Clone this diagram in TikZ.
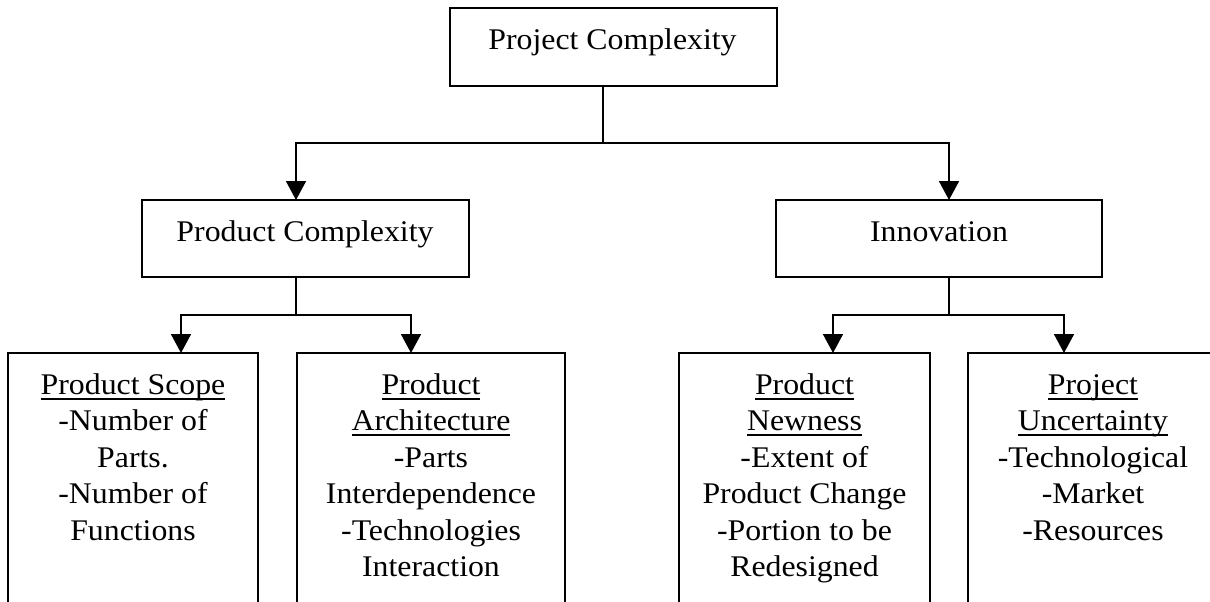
\documentclass[tikz,border=0pt]{standalone}
\usepackage{fontspec}
\setmainfont{Liberation Serif}[FakeStretch=1.06]
\usetikzlibrary{arrows.meta}
\newsavebox{\ulbox}
\newcommand{\ulx}[1]{\sbox{\ulbox}{#1}\rlap{\rule[-5.3pt]{\wd\ulbox}{2pt}}\usebox{\ulbox}}
\newcommand{\toprule}{\rule{0pt}{25pt}}
\begin{document}
\begin{tikzpicture}[x=1pt,y=-1pt,
  box/.style={draw, line width=1.8pt, inner sep=0pt, outer sep=0pt},
  lbl/.style={font=\fontsize{30}{36.5}\selectfont, align=center, inner sep=0pt, anchor=base},
  mlbl/.style={font=\fontsize{30}{36.5}\selectfont, align=center, inner sep=0pt, anchor=north},
  conn/.style={line width=1.8pt},
  arr/.style={conn, -{Triangle[width=20pt,length=19pt]}}]
\path[use as bounding box] (0,0) rectangle (1210,602);
\clip (0,0) rectangle (1210,602);
% top level
\node[box, minimum width=327pt, minimum height=78pt] (top) at (613.5,47) {};
\node[lbl] (toptext) at (612.5,50) {Project Complexity};
% second level
\node[box, minimum width=327pt, minimum height=77pt] (pc) at (305.5,238.5) {};
\node[lbl] (pctext) at (305,241) {Product Complexity};
\node[box, minimum width=326pt, minimum height=77pt] (inn) at (939,238.5) {};
\node[lbl] (inntext) at (939,241) {Innovation};
% third level (open at the bottom edge)
\node[box, minimum width=250pt, minimum height=287pt] (b1) at (133,496.5) {};
\node[mlbl] (b1t) at (133,369) {\toprule\ulx{Product Scope}\\-Number of\\Parts.\\-Number of\\Functions};
\node[box, minimum width=268pt, minimum height=287pt] (b2) at (431,496.5) {};
\node[mlbl] (b2t) at (431,369) {\toprule\ulx{Product}\\\ulx{Architecture}\\-Parts\\Interdependence\\-Technologies\\Interaction};
\node[box, minimum width=251pt, minimum height=287pt] (b3) at (804.5,496.5) {};
\node[mlbl] (b3t) at (804.5,369) {\toprule\ulx{Product}\\\ulx{Newness}\\-Extent of\\Product Change\\-Portion to be\\Redesigned};
\node[box, minimum width=250pt, minimum height=287pt] (b4) at (1093,496.5) {};
\node[mlbl] (b4t) at (1093,369) {\toprule\ulx{Project}\\\ulx{Uncertainty}\\-Technological\\-Market\\-Resources};
% connectors
\coordinate (j0) at (603,143);
\draw[conn] (j0 |- top.south) -- (j0);
\draw[arr] (j0) -| ([xshift=-9.5pt]pc.north);
\draw[arr] (j0) -| ([xshift=10pt]inn.north);
\coordinate (j1) at (296,315);
\draw[conn] (j1 |- pc.south) -- (j1);
\draw[arr] (j1) -| ([xshift=48pt]b1.north);
\draw[arr] (j1) -| ([xshift=-20pt]b2.north);
\coordinate (j2) at (949,315);
\draw[conn] (j2 |- inn.south) -- (j2);
\draw[arr] (j2) -| ([xshift=28.5pt]b3.north);
\draw[arr] (j2) -| ([xshift=-29pt]b4.north);
\end{tikzpicture}
\end{document}
